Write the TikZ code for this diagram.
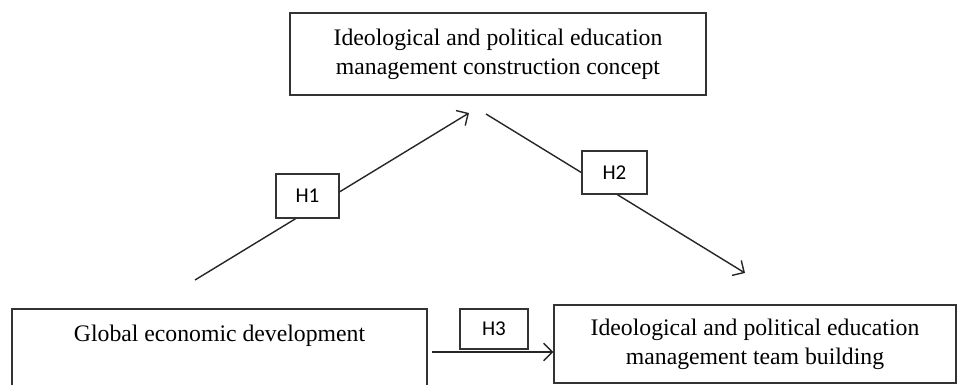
\documentclass[tikz,border=0pt]{standalone}
\usepackage{fontspec}
\setmainfont{Liberation Serif}
\newfontfamily\labelfont{Carlito}
\usetikzlibrary{arrows.meta}

\begin{document}
\begin{tikzpicture}[x=0.02cm,y=-0.02cm,
        box/.style={draw=black!80,line width=0.8pt,align=center,inner sep=0pt,
                font=\fontsize{13.5}{16.5}\selectfont},
        hbox/.style={draw=black!80,fill=white,line width=0.8pt,inner sep=0pt,
                minimum width=1.3cm,minimum height=0.86cm,
                font=\labelfont\fontsize{12}{14}\selectfont},
        link/.style={line width=0.8pt,draw=black!85,
                -{Straight Barb[length=5pt,width=10pt]}}]
        \clip (0,0) rectangle (960,385);
        %画三个框
        \node[box,minimum width=8.32cm,minimum height=1.64cm] (concept) at (498,54)
                {Ideological and political education\\management construction concept};
        \node[box,minimum width=8.3cm,minimum height=1.56cm] (economy) at (219.5,348)
                {Global economic development\\~};
        \node[box,minimum width=8.04cm,minimum height=1.56cm] (team) at (755,344)
                {Ideological and political education\\management team building};
        %箭头
        \coordinate (h1s) at (195,280);
        \coordinate (h1e) at (469,113);
        \coordinate (h2s) at (486,114);
        \coordinate (h2e) at (745,273);
        \coordinate (h3s) at (432,352);
        \draw[link] (h1s) -- (h1e);
        \draw[link] (h2s) -- (h2e);
        \draw[link] (h3s) -- (h3s -| team.west);
        %标H1 H2 H3
        \node[hbox,minimum width=1.26cm,minimum height=0.88cm] (H1) at (307.5,196) {H1};
        \node[hbox] (H2) at (614.5,172.5) {H2};
        \node[hbox,minimum width=1.36cm,minimum height=0.8cm] (H3) at (494,329) {H3};
\end{tikzpicture}
\end{document}
